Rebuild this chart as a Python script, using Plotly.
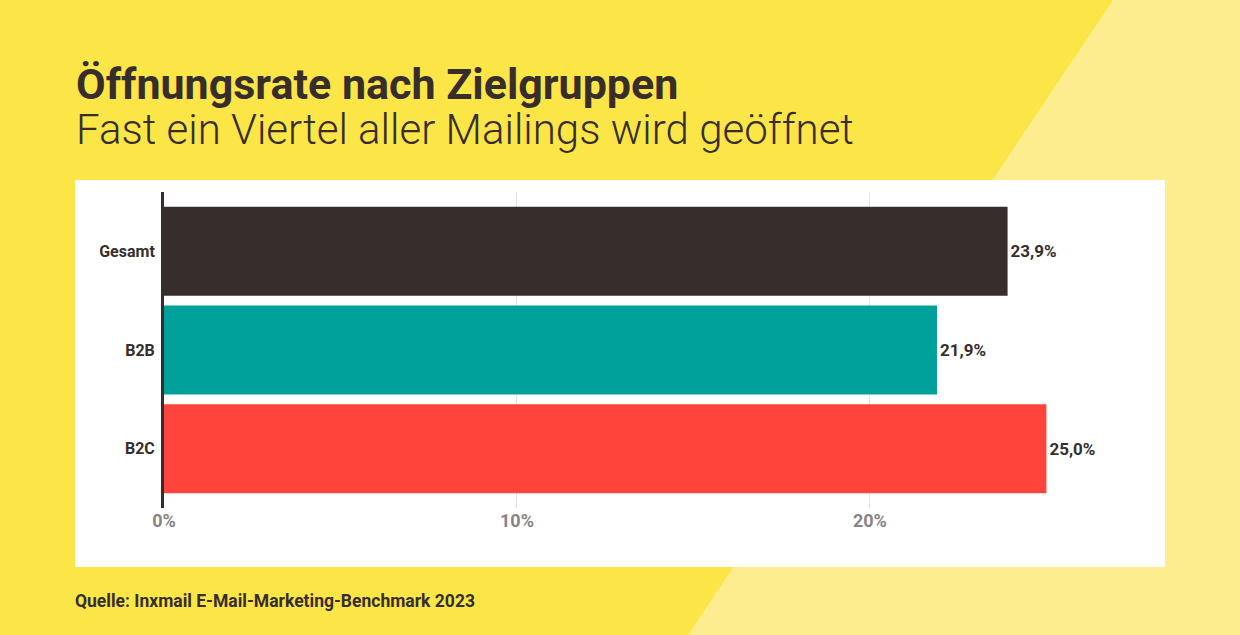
import plotly.graph_objects as go

W, H = 1240, 635

categories = ["Gesamt", "B2B", "B2C"]
values = [23.9, 21.9, 25.0]
bar_colors = ["#372e2c", "#00a19a", "#ff443b"]
tick_vals = [0, 10, 20]
tick_text = ["0%", "10%", "20%"]

title = "Öffnungsrate nach Zielgruppen"
subtitle = "Fast ein Viertel aller Mailings wird geöffnet"
source = "Quelle: Inxmail E-Mail-Marketing-Benchmark 2023"

YELLOW = "#fce546"
LIGHT = "#feed8f"
DARK = "#372e2c"
FONT = "Roboto, 'Open Sans', sans-serif"


def px_x(x):
    return x / W


def px_y(y):
    return 1 - y / H


labels = [f"{v:.1f}%".replace(".", ",") for v in values]

fig = go.Figure(
    go.Bar(
        x=values,
        y=categories,
        orientation="h",
        marker=dict(color=bar_colors, line=dict(width=0)),
        text=labels,
        textposition="outside",
        textfont=dict(family=FONT, size=17, color=DARK, weight="bold"),
        cliponaxis=False,
        hoverinfo="skip",
    )
)

fig.update_layout(
    width=W,
    height=H,
    margin=dict(l=0, r=0, t=0, b=0, autoexpand=False),
    paper_bgcolor=YELLOW,
    plot_bgcolor="rgba(0,0,0,0)",
    showlegend=False,
    bargap=0.1,
    xaxis=dict(
        domain=[px_x(164), px_x(1165)],
        range=[0, 28.36],
        tickvals=tick_vals,
        ticktext=tick_text,
        showgrid=True,
        gridcolor="#e4e4e4",
        gridwidth=1,
        zeroline=False,
        showline=False,
        automargin=False,
        tickfont=dict(family=FONT, size=18, color="#8a8584", weight="bold"),
        ticks="",
        ticklabelstandoff=0,
        fixedrange=True,
    ),
    yaxis=dict(
        domain=[px_y(508), px_y(192)],
        range=[2.6, -0.6],
        showgrid=False,
        zeroline=False,
        showline=True,
        automargin=False,
        linecolor=DARK,
        linewidth=3,
        ticks="",
        tickfont=dict(family=FONT, size=16, color=DARK, weight="bold"),
        ticklabelstandoff=3,
        fixedrange=True,
    ),
    shapes=[
        dict(
            type="path",
            xref="paper",
            yref="paper",
            path=f"M {px_x(1113)} 1 L 1 1 L 1 0 L {px_x(688)} 0 Z",
            fillcolor=LIGHT,
            line=dict(width=0),
            layer="below",
        ),
        dict(
            type="rect",
            xref="paper",
            yref="paper",
            x0=px_x(75),
            x1=px_x(1165),
            y0=px_y(567),
            y1=px_y(180),
            fillcolor="#ffffff",
            line=dict(width=0),
            layer="below",
        ),
    ],
    annotations=[
        dict(
            text=title,
            xref="paper",
            yref="paper",
            x=px_x(74),
            y=px_y(84),
            xanchor="left",
            yanchor="middle",
            showarrow=False,
            font=dict(family=FONT, size=43, color=DARK, weight="bold"),
        ),
        dict(
            text=subtitle,
            xref="paper",
            yref="paper",
            x=px_x(74),
            y=px_y(130),
            xanchor="left",
            yanchor="middle",
            showarrow=False,
            font=dict(family=FONT, size=42, color=DARK, weight=300),
        ),
        dict(
            text=source,
            xref="paper",
            yref="paper",
            x=px_x(73),
            y=px_y(601),
            xanchor="left",
            yanchor="middle",
            showarrow=False,
            font=dict(family=FONT, size=17.5, color=DARK, weight="bold"),
        ),
    ],
)

fig.write_html(
    "out.html",
    config={"displayModeBar": False, "responsive": False},
    post_script="document.body.style.margin='0';document.body.style.padding='0';document.body.style.overflow='hidden';",
)
